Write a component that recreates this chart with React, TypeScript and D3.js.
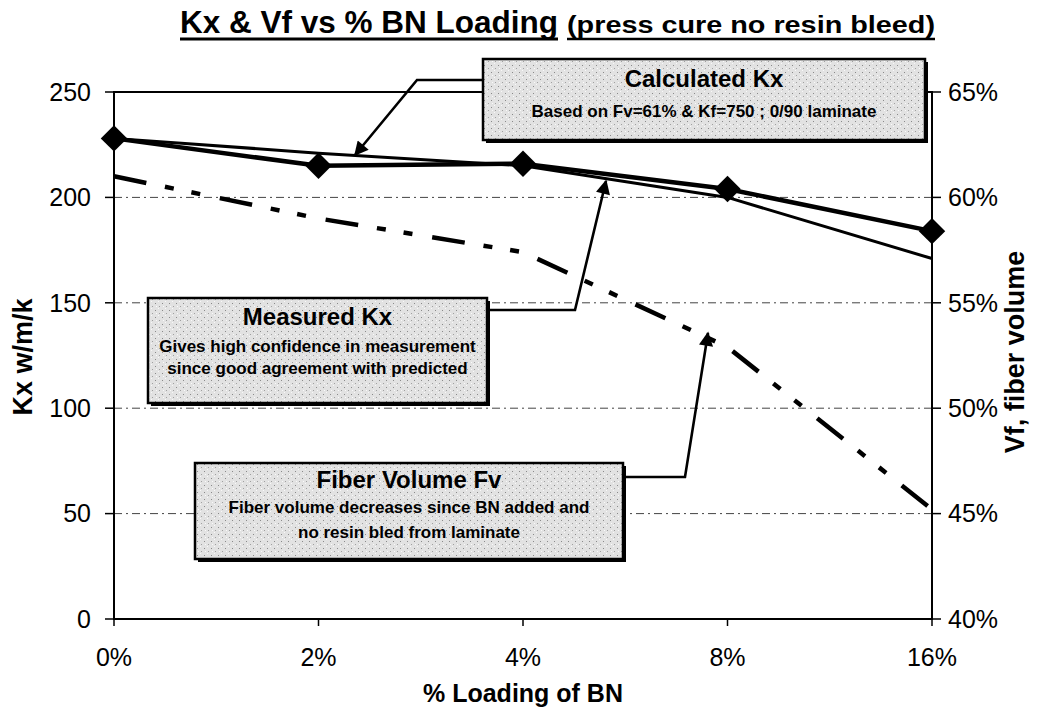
import React from 'react';
import * as d3 from 'd3';

const categories = ['0%', '2%', '4%', '8%', '16%'];
const measuredKx = [228, 215, 216, 204, 184];
const calculatedKx = [228, 221, 215, 200, 171];
const fiberVolume = [61.0, 59.0, 57.4, 52.9, 45.2];
const kxTicks = [0, 50, 100, 150, 200, 250];
const vfTicks = [40, 45, 50, 55, 60, 65];

const W = 1044;
const H = 713;
const margin = { top: 92, right: 112, bottom: 94, left: 114 };
const FONT = '"Liberation Sans", Arial, sans-serif';
const NARROW = '"Liberation Sans Narrow", "Arial Narrow", "Liberation Sans", sans-serif';

const x = d3.scalePoint<string>().domain(categories).range([margin.left, W - margin.right]);
const yKx = d3.scaleLinear().domain([0, 250]).range([H - margin.bottom, margin.top]);
const yVf = d3.scaleLinear().domain([40, 65]).range([H - margin.bottom, margin.top]);

const callouts = [
  {
    x: 483, y: 59, w: 442, h: 81,
    title: 'Calculated Kx', titleY: 87,
    lines: ['Based on Fv=61% & Kf=750 ; 0/90 laminate'], lineY: [117],
    leader: [[483, 80], [417, 80], [355, 155]],
  },
  {
    x: 148, y: 298, w: 339, h: 105,
    title: 'Measured Kx', titleY: 325,
    lines: ['Gives high confidence in measurement', 'since good agreement with predicted'], lineY: [352, 374],
    leader: [[487, 310], [575, 310], [606, 181]],
  },
  {
    x: 195, y: 463, w: 428, h: 96,
    title: 'Fiber Volume Fv', titleY: 488,
    lines: ['Fiber volume decreases since BN added and', 'no resin bled from laminate'], lineY: [513, 538],
    leader: [[623, 477], [685, 477], [708, 333]],
  },
];

export default function App() {
  const left = margin.left;
  const right = W - margin.right;
  const top = margin.top;
  const bottom = H - margin.bottom;

  const kxLine = d3.line<number>().x((_, i) => x(categories[i])!).y(d => yKx(d));
  const vfLine = d3.line<number>().x((_, i) => x(categories[i])!).y(d => yVf(d));
  const diamond = d3.symbol().type(d3.symbolSquare).size(350)();

  return (
    <svg width={W} height={H} style={{ position: 'absolute', left: 0, top: 0, background: '#fff' }}>
      <defs>
        <pattern id="stipple" width="7" height="7" patternUnits="userSpaceOnUse">
          <rect width="7" height="7" fill="#e2e2e2" />
          <rect x="1" y="2" width="1" height="1" fill="#8a8a8a" />
          <rect x="5" y="5" width="1" height="1" fill="#a0a0a0" />
          <rect x="4" y="0" width="1" height="1" fill="#f8f8f8" />
          <rect x="2" y="5" width="1" height="1" fill="#fafafa" />
        </pattern>
        <marker id="arrow" viewBox="0 0 10 10" refX="9" refY="5" markerWidth="7" markerHeight="5.5"
          markerUnits="strokeWidth" orient="auto">
          <path d="M0,0 L10,5 L0,10 Z" fill="#000" />
        </marker>
      </defs>

      {/* title */}
      <text x={180} y={33} fontFamily={NARROW} fontWeight="bold" fontSize={32}
        textLength={378} lengthAdjust="spacingAndGlyphs">Kx &amp; Vf vs % BN Loading</text>
      <text x={567} y={33} fontFamily={NARROW} fontWeight="bold" fontSize={23}
        textLength={368} lengthAdjust="spacingAndGlyphs">(press cure no resin bleed)</text>
      <line x1={180} x2={558} y1={39} y2={39} stroke="#000" strokeWidth={3} />
      <line x1={567} x2={935} y1={39} y2={39} stroke="#000" strokeWidth={2.5} />

      {/* gridlines */}
      {kxTicks.slice(1, -1).map(t => (
        <line key={t} x1={left} x2={right} y1={yKx(t)} y2={yKx(t)} stroke="#444" strokeWidth={1}
          strokeDasharray="8,4,2,4" />
      ))}

      {/* plot frame */}
      <rect x={left} y={top} width={right - left} height={bottom - top} fill="none" stroke="#000" strokeWidth={2} />

      {/* left axis */}
      {kxTicks.map(t => (
        <g key={t}>
          <line x1={left - 9} x2={left} y1={yKx(t)} y2={yKx(t)} stroke="#000" strokeWidth={1.5} />
          <text x={91} y={yKx(t)} dy="0.35em" textAnchor="end" fontFamily={FONT} fontSize={25}>{t}</text>
        </g>
      ))}
      {/* right axis */}
      {vfTicks.map(t => (
        <g key={t}>
          <line x1={right} x2={right + 9} y1={yVf(t)} y2={yVf(t)} stroke="#000" strokeWidth={1.5} />
          <text x={948} y={yVf(t)} dy="0.35em" textAnchor="start" fontFamily={FONT} fontSize={25}>{t}%</text>
        </g>
      ))}
      {/* x axis */}
      {categories.map(c => (
        <g key={c}>
          <line x1={x(c)!} x2={x(c)!} y1={bottom} y2={bottom + 7} stroke="#000" strokeWidth={1.5} />
          <text x={x(c)!} y={666} textAnchor="middle" fontFamily={FONT} fontSize={25}>{c}</text>
        </g>
      ))}

      {/* axis titles */}
      <text transform="translate(32,357) rotate(-90)" textAnchor="middle" fontFamily={FONT}
        fontWeight="bold" fontSize={27}>Kx w/m/k</text>
      <text transform={`translate(1024,352) rotate(-90)`} textAnchor="middle" fontFamily={FONT}
        fontWeight="bold" fontSize={27}>Vf, fiber volume</text>
      <text x={(left + right) / 2} y={702} textAnchor="middle" fontFamily={FONT}
        fontWeight="bold" fontSize={25}>% Loading of BN</text>

      {/* series */}
      <path d={vfLine(fiberVolume)!} fill="none" stroke="#000" strokeWidth={4.5}
        strokeDasharray="33,19,9,18,9,20" />
      <path d={kxLine(calculatedKx)!} fill="none" stroke="#000" strokeWidth={3} />
      <path d={kxLine(measuredKx)!} fill="none" stroke="#000" strokeWidth={4.5} />
      {measuredKx.map((v, i) => (
        <path key={i} d={diamond!} transform={`translate(${x(categories[i])},${yKx(v)}) rotate(45)`} fill="#000" />
      ))}

      {/* callouts */}
      {callouts.map(c => (
        <g key={c.title}>
          <polyline points={c.leader.map(p => p.join(',')).join(' ')} fill="none" stroke="#000"
            strokeWidth={2.6} markerEnd="url(#arrow)" />
          <rect x={c.x + 3} y={c.y + 3} width={c.w} height={c.h} fill="#000" />
          <rect x={c.x} y={c.y} width={c.w} height={c.h} fill="url(#stipple)" stroke="#000" strokeWidth={2.5} />
          <text x={c.x + c.w / 2} y={c.titleY} textAnchor="middle" fontFamily={FONT} fontWeight="bold"
            fontSize={24}>{c.title}</text>
          {c.lines.map((l, i) => (
            <text key={l} x={c.x + c.w / 2} y={c.lineY[i]} textAnchor="middle" fontFamily={FONT}
              fontWeight="bold" fontSize={17}>{l}</text>
          ))}
        </g>
      ))}
    </svg>
  );
}
